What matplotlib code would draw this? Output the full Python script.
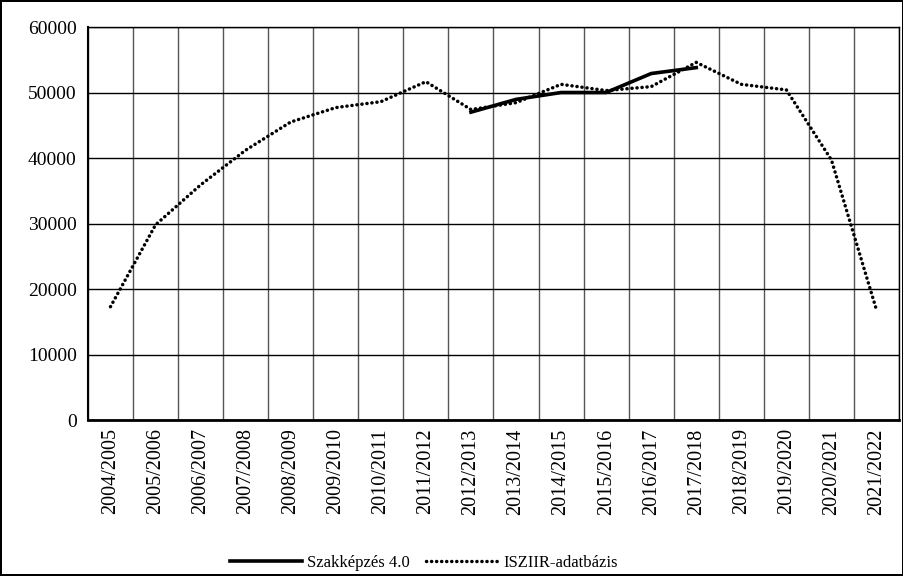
import numpy as np
import matplotlib
matplotlib.use("Agg")
import matplotlib.pyplot as plt

plt.rcParams["font.family"] = ["Liberation Serif", "DejaVu Serif"]

# Data
years = ["2004/2005", "2005/2006", "2006/2007", "2007/2008", "2008/2009",
         "2009/2010", "2010/2011", "2011/2012", "2012/2013", "2013/2014",
         "2014/2015", "2015/2016", "2016/2017", "2017/2018", "2018/2019",
         "2019/2020", "2020/2021", "2021/2022"]
iszir = [17300, 29800, 35900, 41200, 45500, 47700, 48600, 51650, 47400,
         48450, 51250, 50300, 50900, 54600, 51250, 50400, 39700, 16800]
szak_years = years[8:14]
szak = [47000, 48950, 50000, 50000, 52900, 53800]

fig = plt.figure(figsize=(9.04, 5.76), dpi=100)
fig.patch.set_edgecolor("black")
fig.patch.set_linewidth(1.5)
ax = fig.add_axes([0.0973, 0.2708, 0.8972, 0.6823])

x = np.arange(len(years))
x_szak = np.array([years.index(y) for y in szak_years])

ax.plot(x_szak, szak, color="black", linewidth=2.6, label="Szakképzés 4.0")
ax.plot(x, iszir, color="black", linewidth=2.5, linestyle=(0, (0.05, 1.4)),
        dash_capstyle="round", label="ISZIIR-adatbázis")

ax.set_xlim(-0.5, len(years) - 0.5)
ax.set_ylim(0, 60000)
ax.set_yticks(np.arange(0, 60001, 10000))
ax.set_xticks(x)
ax.set_xticklabels(years, rotation=90, fontsize=14.5)
ax.set_xticks(np.arange(-0.5, len(years), 1), minor=True)
ax.tick_params(axis="y", labelsize=14, length=0, pad=8)
ax.tick_params(axis="x", which="both", length=0, pad=6)

ax.grid(axis="y", color="black", linewidth=1)
ax.grid(axis="x", which="minor", color="#555555", linewidth=1)
ax.set_axisbelow(True)
for s in ax.spines.values():
    s.set_linewidth(1)
ax.spines["bottom"].set_linewidth(2)
ax.spines["left"].set_linewidth(1.5)

fig.legend(loc="center", bbox_to_anchor=(0.469, 0.022), ncol=2, frameon=False,
           fontsize=12, handlelength=4.3, columnspacing=1.0, handletextpad=0.3)

fig.savefig("out.png", dpi=100)
